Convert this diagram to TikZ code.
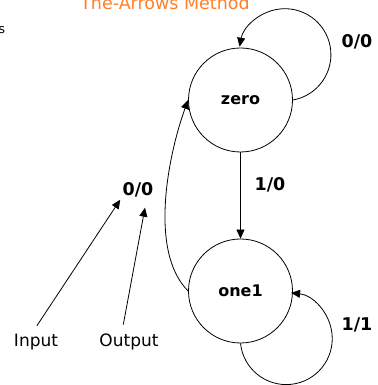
\documentclass[tikz,border=0pt]{standalone}
\usepackage{fontspec}
\setmainfont{DejaVu Sans}
\usetikzlibrary{arrows.meta}
\definecolor{titleorange}{RGB}{255,128,40}

\begin{document}
\begin{tikzpicture}[x=1pt,y=1pt,line width=0.8pt,>={Triangle[length=9pt,width=8pt]},
        every node/.style={inner sep=2pt},
        state/.style={circle,draw,inner sep=0pt,minimum size=104pt,font=\fontsize{16}{19}\selectfont\bfseries},
        io/.style={font=\fontsize{17.5}{20}\selectfont\bfseries},
        tag/.style={font=\fontsize{17}{20}\selectfont}]
        \useasboundingbox (0,0) rectangle (377,385);

        \node[anchor=base,text=titleorange,font=\fontsize{17.5}{21}\selectfont] at (165,375) (title) {The-Arrows Method};
        \node[font=\fontsize{12.5}{14}\selectfont] at (2,354.5) (cut) {s};

        \node[state] at (240.5,285) (zero) {zero};
        \node[state] at (240.5,94) (one) {one1};

        \node[io] at (357,343) (l00a) {0/0};
        \node[io] at (270,200) (l10) {1/0};
        \node[io] at (357,60) (l11) {1/1};
        \node[io] at (138,195) (l00b) {0/0};
        \node[tag] at (36,43) (inp) {Input};
        \node[tag] at (129,43) (outp) {Output};

        \draw[->] (zero) -- (one);
        \draw[->] (zero.east) arc[start angle=-80,end angle=170,radius=46];
        \draw[->] (one.south) arc[start angle=186,end angle=444,radius=46];
        \draw[->] (one.west) to[out=135,in=-110,looseness=0.76] (zero.west);
        \draw[->,shorten <=7pt] ([xshift=-3pt]inp.north) -- (l00b.south west);
        \draw[->,shorten <=7pt] ([xshift=-7pt]outp.north) -- ([xshift=7pt,yshift=-8pt]l00b.south);
    \end{tikzpicture}
\end{document}
